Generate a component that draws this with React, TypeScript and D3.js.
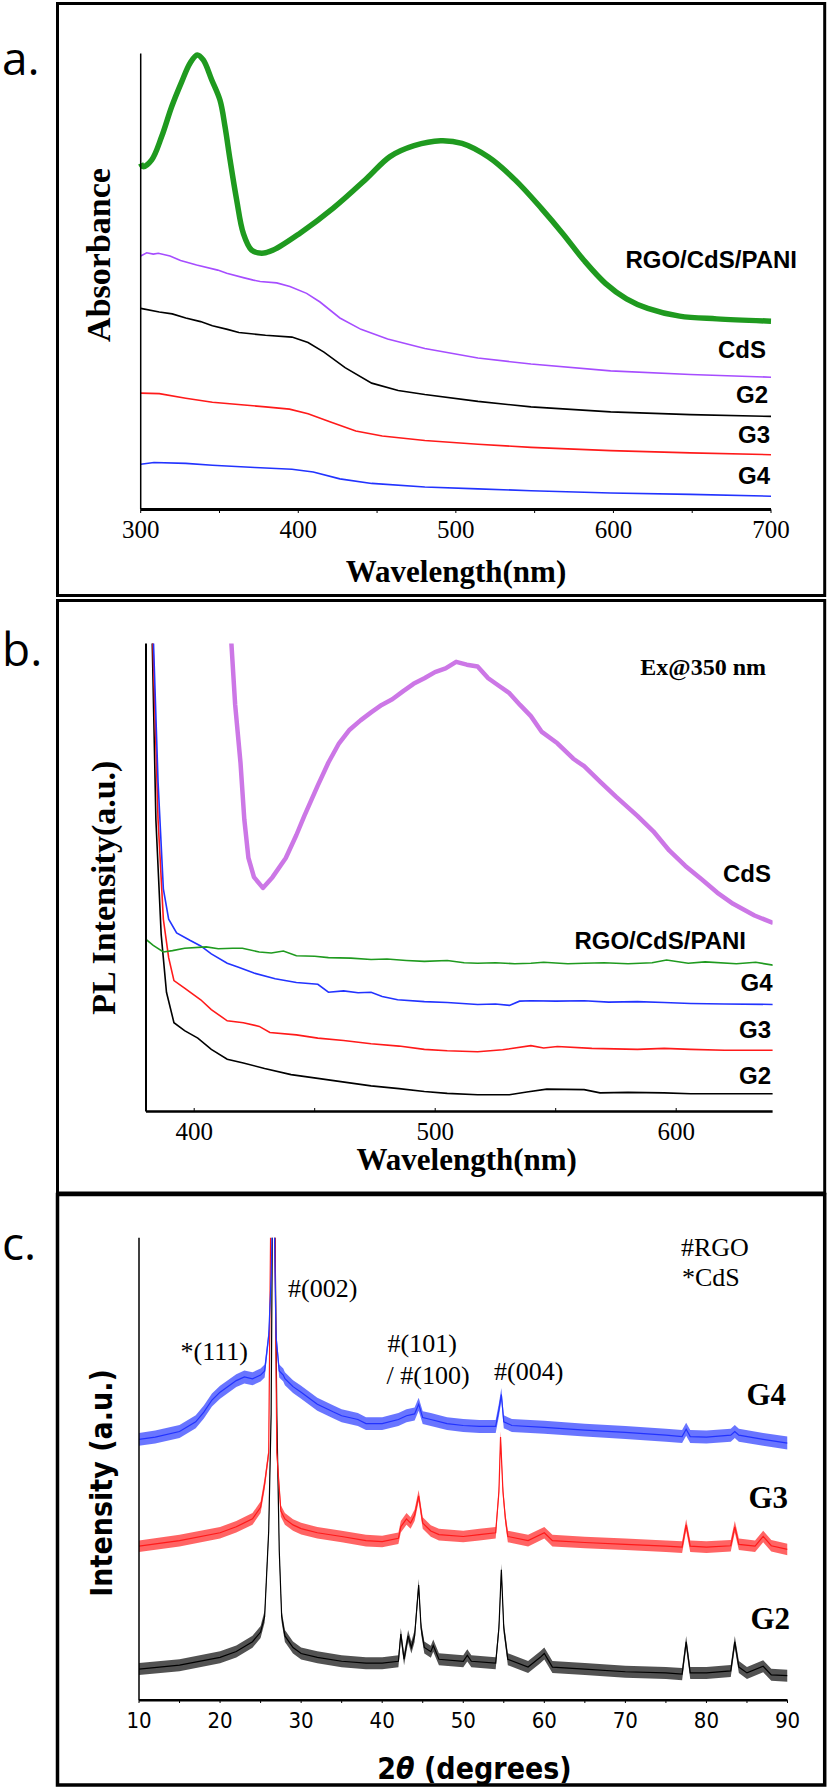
import React from 'react';
import * as d3 from 'd3';

// ---------- Panel a: UV-Vis absorbance (wavelength nm, relative absorbance) ----------
const absRGO: [number, number][] = [
  [300, 75.9], [301.6, 75.2], [307, 76.7], [313.3, 81.8], [319.7, 88.4], [326, 93.8], [331.3, 97.9],
  [335.9, 99.7], [339.7, 98.6], [345.1, 94.2], [350.3, 89.8], [353.5, 84], [356.7, 76.7], [360.9, 67.9],
  [365.1, 60.6], [370.4, 56.9], [376.8, 56.2], [384.1, 56.9], [401.1, 60.6], [422.2, 66.1], [443.4, 72.6],
  [458.2, 77.4], [473.5, 79.8], [490.4, 80.9], [503.9, 80.3], [520.7, 77.3], [537.6, 72.3], [554.4, 66],
  [567.9, 60.5], [581.4, 54.6], [594.9, 49.6], [608.3, 46.2], [621.8, 44.1], [642, 42.4], [665.6, 41.8], [700, 41.3],
];
const absCdS: [number, number][] = [
  [300, 55.6], [303.8, 56.3], [308, 56], [311.2, 56.2], [318.6, 55.6], [325.3, 54.6], [335.5, 53.6],
  [348.9, 52.5], [354.6, 51.8], [365.7, 50.8], [371.5, 50.3], [375.8, 50], [386.3, 49.7], [394.7, 48.9],
  [405.3, 47.4], [413.8, 45.5], [426.4, 42], [439.8, 39.5], [456.7, 37.4], [480.3, 35.3], [514, 33.2],
  [547.7, 31.9], [598.2, 30.4], [648.8, 29.6], [700, 29],
];
const absG2: [number, number][] = [
  [300, 44.1], [311.8, 43.3], [320, 42.9], [328.6, 42], [338, 41.2], [345.5, 40.3], [355, 39.5], [362.3, 38.8],
  [379.2, 38.2], [396, 37.8], [406.2, 36.6], [416.3, 34.5], [429.7, 31.1], [446.6, 27.7], [463.4, 26.1],
  [480.3, 25.2], [514, 23.7], [547.7, 22.5], [598.2, 21.4], [648.8, 20.8], [700, 20.4],
];
const absG3: [number, number][] = [
  [300, 25.5], [311.8, 25.4], [328.6, 24.4], [345.5, 23.5], [365.7, 22.9], [379.2, 22.5], [394.4, 22],
  [406.2, 21], [419.6, 19.3], [436.5, 17.2], [453.3, 16.1], [480.3, 15.1], [514, 14.3], [547.7, 13.6],
  [598.2, 12.9], [648.8, 12.4], [700, 12],
];
const absG4: [number, number][] = [
  [300, 9.9], [308.4, 10.3], [328.6, 10.1], [345.5, 9.7], [372.5, 9.2], [396, 8.8], [409.5, 8.2],
  [426.4, 6.7], [446.6, 5.7], [480.3, 4.9], [514, 4.5], [547.7, 4.1], [598.2, 3.6], [648.8, 3.3], [700, 2.9],
];
const absTicks = [300, 400, 500, 600, 700];

// ---------- Panel b: PL spectra ----------
const plCdS: [number, number][] = [
  [415.2, 102], [417, 86.9], [419.2, 74.6], [420.8, 62.4], [422.5, 54.2], [424.8, 50.1], [428.5, 47.8],
  [432.5, 50.1], [438, 54.2], [442.4, 59.1], [445.7, 63.2], [451.3, 69.7], [455.7, 74.6], [460.1, 78.7],
  [464.5, 81.6], [469, 83.6], [473.4, 85.3], [477.8, 86.9], [482.2, 88.1], [486.6, 89.8], [491, 91.4],
  [495.5, 92.6], [499.9, 93.9], [504.3, 94.7], [508.7, 96.1], [513.1, 95.5], [517.6, 95.1], [522, 92.6],
  [526.4, 91], [530.8, 89.4], [535.2, 86.9], [539.7, 84.5], [544.1, 81.2], [550.7, 78.7], [557.3, 75.4],
  [561.8, 73.8], [568.4, 70.5], [575, 67.3], [583.9, 63.2], [590.5, 59.9], [597.1, 55.8], [603.8, 52.5],
  [610.4, 49.7], [617, 46.8], [623.6, 44.4], [632.5, 41.9], [640.2, 40.3],
];
const plRGO: [number, number][] = [
  [380, 36.8], [383, 35.5], [387.2, 34.1], [391, 34.4], [396, 34.9], [405, 35.2], [410, 34.8], [415.9, 34.9],
  [420, 34.9], [427, 34.1], [432, 33.9], [437, 34.3], [442.4, 33.3], [450, 33.2], [455.7, 32.9], [465, 32.8],
  [473.4, 32.5], [480, 32.6], [488, 32.3], [495.5, 32.1], [505, 32.3], [512, 31.8], [517.6, 31.7], [525, 31.8],
  [533, 31.6], [539.7, 31.7], [545, 31.9], [555, 31.6], [561.8, 31.7], [570, 31.8], [580, 31.6], [590, 31.8],
  [596, 32.4], [605, 31.7], [612, 32.0], [625, 31.6], [633, 31.9], [640.2, 31.3],
];
const plG4: [number, number][] = [
  [382.8, 105], [385, 70.5], [387.2, 47.6], [389.4, 41.1], [392.7, 38.2], [398.2, 36.6], [402.7, 35.4],
  [407.1, 33.7], [413.7, 31.7], [418.1, 30.9], [424.8, 29.6], [433.6, 28.4], [442.4, 27.6], [451.3, 27.2],
  [455.7, 25.5], [462, 25.8], [468, 25.4], [473.4, 25.5], [478, 24.6], [484.4, 23.9], [495.5, 23.5],
  [505, 23.3], [517.6, 22.9], [525, 23.0], [530.8, 22.7], [535, 23.6], [539.7, 23.7], [550, 23.6],
  [561.8, 23.7], [572, 23.4], [583.9, 23.5], [595, 23.3], [606, 23.1], [620, 23.0], [640.2, 22.9],
];
const plG3: [number, number][] = [
  [382.6, 105], [385, 62.4], [387.2, 41.1], [389.4, 32.9], [391.6, 28], [396, 26.4], [402.7, 23.9],
  [407.1, 21.8], [413.7, 19.4], [420.4, 19], [427, 18.2], [431.4, 16.9], [442.4, 16.4], [451.3, 15.7],
  [462, 15.2], [473.4, 14.5], [485, 14.0], [495.5, 13.3], [505, 13.0], [517.6, 12.8], [528, 13.2],
  [539.7, 14.1], [545, 13.6], [550.7, 13.9], [565, 13.5], [583.9, 13.3], [595, 13.5], [606, 13.3],
  [620, 13.1], [640.2, 13.1],
];
const plG2: [number, number][] = [
  [382.4, 105], [384.1, 62.4], [386.3, 37.8], [388.5, 25.5], [391.6, 19], [396, 17.3], [401.5, 15.7],
  [407.1, 13.3], [413.7, 11.2], [420.4, 10.4], [429.2, 9.2], [440.2, 7.9], [451.3, 7.1], [462.3, 6.3],
  [473.4, 5.5], [485, 4.9], [495.5, 4.3], [505, 3.9], [517.6, 3.6], [530.8, 3.6], [538, 4.2], [546.3, 4.8],
  [561.8, 4.7], [568.4, 4], [580, 4.1], [595, 4.0], [606, 3.8], [620, 3.8], [640.2, 3.8],
];
const plTicks = [400, 500, 600];

// ---------- Panel c: XRD (2θ degrees, relative intensity) ----------
const xrdG2: [number, number][] = [
  [10, 6.74], [15, 7.58], [20, 9.27], [22, 10.53], [24, 12.64], [25, 14.74], [25.5, 18.11], [26, 36.6],
  [26.3, 61.9], [26.5, 115], [26.7, 115], [27, 61.9], [27.3, 32.4], [27.6, 18.1], [28, 13.9], [29, 11.4],
  [30, 10.1], [32, 9.27], [35, 8.42], [38, 8.0], [40, 8.0], [42, 8.42], [42.3, 14.3], [42.7, 8.85],
  [43.2, 13.9], [43.6, 11.4], [44.0, 13.9], [44.5, 24.9], [44.8, 15.6], [45.2, 11.4], [46, 10.5],
  [46.3, 11.8], [47, 8.85], [50, 8.42], [50.5, 9.69], [51, 8.42], [54, 8.0], [54.4, 15.6], [54.7, 28.2],
  [55, 15.6], [55.5, 8.85], [58, 7.16], [59.5, 9.27], [60, 10.1], [61, 7.16], [65, 6.74], [70, 6.15],
  [75, 5.9], [77, 5.64], [77.5, 12.6], [78, 5.9], [80, 5.9], [83, 6.32], [83.5, 12.6], [84, 7.16],
  [85, 5.9], [87, 7.33], [88, 5.48], [90, 5.31],
];
const xrdG3: [number, number][] = [
  [10, 33.3], [15, 34.5], [20, 36.2], [22, 37.5], [24, 39.2], [25, 41.7], [25.5, 46.8], [26, 53.5],
  [26.3, 115], [26.7, 115], [27.0, 53.5], [27.5, 40.9], [28, 39.2], [29, 37.9], [30, 37.1], [32, 36.2],
  [35, 35.4], [38, 34.5], [40, 34.3], [42, 35.0], [42.3, 37.5], [43, 39.2], [43.5, 38.3], [44, 40.0],
  [44.5, 44.2], [45, 38.3], [46, 36.6], [47, 35.8], [50, 35.4], [52, 35.8], [54, 36.2], [54.4, 45.1],
  [54.6, 56.9], [54.9, 45.1], [55.2, 39.2], [55.5, 35.4], [58, 34.5], [60, 36.2], [61, 34.5], [65, 34.1],
  [70, 33.7], [75, 33.3], [77, 33.1], [77.5, 37.9], [78, 33.3], [80, 33.1], [83, 33.4], [83.5, 37.5],
  [84, 33.7], [86, 33.3], [87, 35.4], [88, 33.4], [90, 32.6],
];
const xrdG4: [number, number][] = [
  [10, 56.4], [12, 56.9], [15, 58.1], [17, 60.2], [18, 62.3], [19, 64.9], [20, 66.6], [22, 69.1], [23, 69.9],
  [24, 69.5], [25, 70.3], [25.5, 71.2], [26, 78.8], [26.3, 91.4], [26.6, 115], [26.9, 78.8], [27.3, 71.2],
  [27.8, 70.3], [28, 69.5], [29, 67.8], [30, 66.6], [31, 65.3], [32, 64.0], [34, 62.3], [35, 61.5],
  [37, 60.7], [38, 59.8], [40, 59.8], [42, 60.7], [43, 61.5], [44, 61.9], [44.5, 64.0], [45, 61.1],
  [46, 60.7], [48, 59.8], [50, 59.4], [52, 59.2], [54, 59.2], [54.4, 62.8], [54.7, 66.1], [55, 60.2],
  [56, 59.4], [60, 59.0], [65, 58.4], [70, 57.9], [75, 57.3], [77, 57.0], [77.5, 58.6], [78, 57.0],
  [80, 56.9], [83, 57.3], [83.5, 58.1], [84, 57.3], [87, 56.4], [90, 55.6],
];
const xrdNoise = { G2: 1.3, G3: 1.25, G4: 1.4 };
const xrdTicks = [10, 20, 30, 40, 50, 60, 70, 80, 90];

const SERIF = "'Liberation Serif', 'Times New Roman', serif";
const SANS = "'Liberation Sans', Arial, sans-serif";
const COND = "'DejaVu Sans Condensed', 'DejaVu Sans', sans-serif";
const PANEL = "'Open Sans', 'Noto Sans', sans-serif";

type P = [number, number];

function PanelA() {
  const x = d3.scaleLinear().domain([300, 700]).range([140.7, 771]);
  const y = d3.scaleLinear().domain([0, 100]).range([509.4, 53.6]);
  const lin = d3.line<P>().x(d => x(d[0])).y(d => y(d[1]));
  const smooth = d3.line<P>().x(d => x(d[0])).y(d => y(d[1])).curve(d3.curveCatmullRom);
  const minor = d3.range(300, 701, 50);
  return (
    <g>
      <rect x={57.5} y={3.5} width={767.2} height={592} fill="none" stroke="#000" strokeWidth={3} />
      <text x={2} y={75} fontFamily={PANEL} fontSize={46}>a.</text>
      <path d={lin(absG4)!} fill="none" stroke="#2233ff" strokeWidth={1.6} />
      <path d={lin(absG3)!} fill="none" stroke="#ff1a1a" strokeWidth={1.6} />
      <path d={lin(absG2)!} fill="none" stroke="#000" strokeWidth={1.6} />
      <path d={lin(absCdS)!} fill="none" stroke="#a64dff" strokeWidth={1.6} />
      <path d={smooth(absRGO)!} fill="none" stroke="#1f9a1f" strokeWidth={5.5} strokeLinejoin="round" />
      <line x1={x(300)} x2={x(300)} y1={53.6} y2={509.4} stroke="#000" strokeWidth={1.5} />
      <line x1={x(300)} x2={x(700)} y1={509.4} y2={509.4} stroke="#000" strokeWidth={3} />
      {minor.map(t => <line key={t} x1={x(t)} x2={x(t)} y1={509.4} y2={513} stroke="#000" strokeWidth={1} />)}
      {absTicks.map(t => (
        <text key={t} x={x(t)} y={529} textAnchor="middle" dominantBaseline="central" fontFamily={SERIF} fontSize={25}>{t}</text>
      ))}
      <text x={456} y={571} textAnchor="middle" dominantBaseline="central" fontFamily={SERIF} fontWeight="bold" fontSize={31}>Wavelength(nm)</text>
      <text transform="translate(98,255) rotate(-90)" textAnchor="middle" dominantBaseline="central" fontFamily={SERIF} fontWeight="bold" fontSize={34}>Absorbance</text>
      <g fontFamily={SANS} fontWeight="bold" fontSize={24} textAnchor="end">
        <text x={797} y={268}>RGO/CdS/PANI</text>
        <text x={766} y={358}>CdS</text>
        <text x={768} y={403}>G2</text>
        <text x={770} y={443}>G3</text>
        <text x={770} y={484}>G4</text>
      </g>
    </g>
  );
}

function PanelB() {
  const x = d3.scaleLinear().domain([380, 640]).range([146, 772.6]);
  const y = d3.scaleLinear().domain([0, 100]).range([1111.6, 643.6]);
  const lin = d3.line<P>().x(d => x(d[0])).y(d => y(d[1]));
  const minor = d3.range(400, 641, 50);
  return (
    <g>
      <rect x={57.5} y={600.5} width={767.2} height={592.5} fill="none" stroke="#000" strokeWidth={3} />
      <text x={2} y={666} fontFamily={PANEL} fontSize={46}>b.</text>
      <defs>
        <clipPath id="clipB"><rect x={146} y={643.6} width={626.6} height={468} /></clipPath>
      </defs>
      <g clipPath="url(#clipB)">
        <path d={lin(plG2)!} fill="none" stroke="#000" strokeWidth={1.6} />
        <path d={lin(plG3)!} fill="none" stroke="#ff1a1a" strokeWidth={1.6} />
        <path d={lin(plG4)!} fill="none" stroke="#2233ff" strokeWidth={1.6} />
        <path d={lin(plRGO)!} fill="none" stroke="#1f9a1f" strokeWidth={1.6} />
        <path d={lin(plCdS)!} fill="none" stroke="#cc77e6" strokeWidth={4.5} strokeLinejoin="round" />
      </g>
      <line x1={146} x2={146} y1={643.6} y2={1111.6} stroke="#000" strokeWidth={2} />
      <line x1={146} x2={772.6} y1={1111.6} y2={1111.6} stroke="#000" strokeWidth={2.5} />
      {minor.map(t => <line key={t} x1={x(t)} x2={x(t)} y1={1111.6} y2={1108} stroke="#000" strokeWidth={1} />)}
      {plTicks.map(t => (
        <text key={t} x={x(t)} y={1131} textAnchor="middle" dominantBaseline="central" fontFamily={SERIF} fontSize={25}>{t}</text>
      ))}
      <text x={466.7} y={1159} textAnchor="middle" dominantBaseline="central" fontFamily={SERIF} fontWeight="bold" fontSize={31}>Wavelength(nm)</text>
      <text transform="translate(103.5,887.6) rotate(-90)" textAnchor="middle" dominantBaseline="central" fontFamily={SERIF} fontWeight="bold" fontSize={34}>PL Intensity(a.u.)</text>
      <text x={766} y={675} textAnchor="end" fontFamily={SERIF} fontWeight="bold" fontSize={24}>Ex@350 nm</text>
      <g fontFamily={SANS} fontWeight="bold" fontSize={24} textAnchor="end">
        <text x={771} y={882}>CdS</text>
        <text x={746} y={949}>RGO/CdS/PANI</text>
        <text x={772.6} y={991}>G4</text>
        <text x={771} y={1038}>G3</text>
        <text x={771} y={1084}>G2</text>
      </g>
    </g>
  );
}

function PanelC() {
  const x = d3.scaleLinear().domain([10, 90]).range([139, 787.5]);
  const y = d3.scaleLinear().domain([0, 100]).range([1700.2, 1237.7]);
  const lin = d3.line<P>().x(d => x(d[0])).y(d => y(d[1]));
  const band = (n: number) => d3.area<P>().x(d => x(d[0])).y0(d => y(d[1] - n)).y1(d => y(d[1] + n));
  const minor = d3.range(10, 91, 5);
  const series: { data: P[]; noise: number; color: string }[] = [
    { data: xrdG2, noise: xrdNoise.G2, color: '#000' },
    { data: xrdG3, noise: xrdNoise.G3, color: '#ff1a1a' },
    { data: xrdG4, noise: xrdNoise.G4, color: '#2233ff' },
  ];
  return (
    <g>
      <rect x={57.5} y={1194.5} width={767.2} height={590.5} fill="none" stroke="#000" strokeWidth={3.5} />
      <text x={2} y={1260} fontFamily={PANEL} fontSize={46}>c.</text>
      <defs>
        <clipPath id="clipC"><rect x={139} y={1237.7} width={648.5} height={462.5} /></clipPath>
      </defs>
      <g clipPath="url(#clipC)">
        {series.map((s, i) => (
          <g key={i}>
            <path d={band(s.noise)(s.data)!} fill={s.color} fillOpacity={0.68} stroke="none" />
            <path d={lin(s.data)!} fill="none" stroke={s.color} strokeWidth={1.2} />
          </g>
        ))}
      </g>
      <line x1={139} x2={139} y1={1237.7} y2={1700.2} stroke="#000" strokeWidth={1.5} />
      <line x1={139} x2={787.5} y1={1700.2} y2={1700.2} stroke="#000" strokeWidth={2.5} />
      {minor.map(t => <line key={t} x1={x(t)} x2={x(t)} y1={1700.2} y2={1703} stroke="#000" strokeWidth={1} />)}
      {xrdTicks.map(t => (
        <text key={t} x={x(t)} y={1720} textAnchor="middle" dominantBaseline="central" fontFamily={COND} fontStretch="condensed" fontSize={22}>{t}</text>
      ))}
      <text x={474.5} y={1768} textAnchor="middle" dominantBaseline="central" fontFamily={COND} fontStretch="condensed" fontWeight="bold" fontSize={30}>
        2<tspan fontStyle="italic">θ</tspan> (degrees)
      </text>
      <text transform="translate(101,1483) rotate(-90)" textAnchor="middle" dominantBaseline="central" fontFamily={COND} fontStretch="condensed" fontWeight="bold" fontSize={30}>Intensity (a.u.)</text>
      <g fontFamily={SERIF} fontSize={26}>
        <text x={681} y={1256}>#RGO</text>
        <text x={682} y={1286}>*CdS</text>
        <text x={288} y={1297}>#(002)</text>
        <text x={180.5} y={1360}>*(111)</text>
        <text x={387.6} y={1352}>#(101)</text>
        <text x={386.6} y={1383.5}>/ #(100)</text>
        <text x={494} y={1380}>#(004)</text>
      </g>
      <g fontFamily={SERIF} fontWeight="bold" fontSize={31} textAnchor="end">
        <text x={786} y={1405}>G4</text>
        <text x={788} y={1508}>G3</text>
        <text x={790} y={1629}>G2</text>
      </g>
    </g>
  );
}

export default function App() {
  return (
    <svg width={829} height={1791} viewBox="0 0 829 1791"
      style={{ position: 'absolute', left: 0, top: 0, display: 'block', background: '#fff' }}>
      <rect x={0} y={0} width={829} height={1791} fill="#fff" />
      <PanelA />
      <PanelB />
      <PanelC />
    </svg>
  );
}
